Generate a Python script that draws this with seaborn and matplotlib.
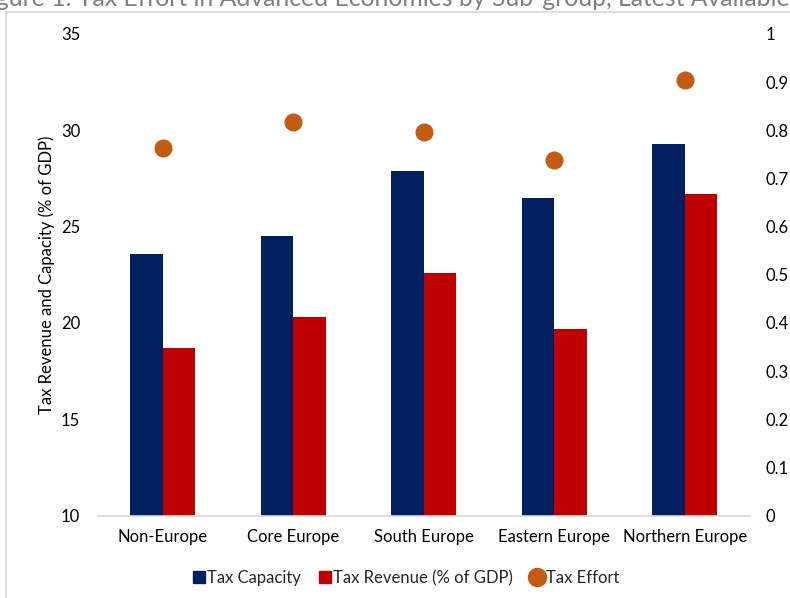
import matplotlib
matplotlib.use("Agg")
import matplotlib.pyplot as plt
import seaborn as sns
import pandas as pd
from matplotlib.lines import Line2D
from matplotlib.patches import Rectangle

# Sub-group data
groups = ["Non-Europe", "Core Europe", "South Europe", "Eastern Europe", "Northern Europe"]
tax_capacity = [23.6, 24.5, 27.9, 26.5, 29.3]
tax_revenue = [18.7, 20.3, 22.6, 19.7, 26.7]
tax_effort = [0.763, 0.817, 0.797, 0.739, 0.904]

left_ticks = [10, 15, 20, 25, 30, 35]
right_ticks = [0, 0.1, 0.2, 0.3, 0.4, 0.5, 0.6, 0.7, 0.8, 0.9, 1]
right_labels = ["0", "0.1", "0.2", "0.3", "0.4", "0.5", "0.6", "0.7", "0.8", "0.9", "1"]

title = "Figure 1. Tax Effort in Advanced Economies by Sub-group, Latest Available Year"

NAVY = "#002060"
RED = "#C00000"
ORANGE = "#C55A11"
GRID = "#D9D9D9"
TEXT = "#000000"
FS = 12

sns.set_theme(style="white")
plt.rcParams["font.family"] = ["Lato", "DejaVu Sans"]

bars = pd.DataFrame({
    "group": groups * 2,
    "series": ["Tax Capacity"] * len(groups) + ["Tax Revenue (% of GDP)"] * len(groups),
    "value": tax_capacity + tax_revenue,
})
effort = pd.DataFrame({"group": groups, "value": tax_effort})

W, H = 790, 598
fig = plt.figure(figsize=(W / 100, H / 100), dpi=100)
ax = fig.add_axes([97.5 / W, (H - 515.5) / H, (750 - 97.5) / W, (515.5 - 34) / H])

sns.barplot(data=bars, x="group", y="value", hue="series", order=groups,
            palette=[NAVY, RED], width=0.5, gap=0, saturation=1,
            linewidth=0, ax=ax, legend=False)
ax.set_ylim(10, 35)
ax.set_yticks(left_ticks)
ax.set_yticklabels([str(t) for t in left_ticks])
ax.set_xlim(-0.5, len(groups) - 0.5)
ax.set_xlabel("")
ax.set_ylabel("Tax Revenue and Capacity (% of GDP)", fontsize=FS, color=TEXT)
ax.yaxis.set_label_coords((55 - 97.5) / (750 - 97.5), 0.5)
ax.tick_params(axis="both", length=0, labelsize=FS, colors=TEXT)
ax.tick_params(axis="x", pad=10)
ax.tick_params(axis="y", pad=12.5)
for side in ["top", "right", "left"]:
    ax.spines[side].set_visible(False)
ax.spines["bottom"].set_color(GRID)
ax.spines["bottom"].set_linewidth(1.2)

ax2 = ax.twinx()
sns.stripplot(data=effort, x="group", y="value", order=groups, jitter=False,
              color=ORANGE, size=13, linewidth=0, ax=ax2)
ax2.set_ylim(0, 1)
ax2.set_yticks(right_ticks)
ax2.set_yticklabels(right_labels)
ax2.set_ylabel("")
ax2.set_xlim(-0.5, len(groups) - 0.5)
ax2.tick_params(axis="y", length=0, labelsize=FS, colors=TEXT, pad=11.5)
for side in ["top", "right", "left", "bottom"]:
    ax2.spines[side].set_visible(False)

# chart frame
fig.patches.append(Rectangle((6 / W, -0.1), 1.2, (H - 12) / H + 0.1,
                             transform=fig.transFigure, fill=False,
                             edgecolor=GRID, linewidth=1.2))

# heading, partly cropped above the frame: size it so that "Economies ... Available"
# spans x = 335..790 px and starts at x = 335 px
renderer = fig.canvas.get_renderer()
def text_width(s, size):
    t = fig.text(0, 0, s, fontsize=size)
    w = t.get_window_extent(renderer).width
    t.remove()
    return w

prefix = "Figure 1. Tax Effort in Advanced "
span = "Economies by Sub-group, Latest Available"
base = 15
size = base * 455 / text_width(span, base)
x0 = 335 - text_width(prefix + "E", size) + text_width("E", size)
fig.text(x0 / W, (H - 6.5) / H, title, ha="left", va="baseline",
         fontsize=size, color="#808080")

handles = [
    Line2D([], [], marker="s", linestyle="none", markersize=8, color=NAVY),
    Line2D([], [], marker="s", linestyle="none", markersize=8, color=RED),
    Line2D([], [], marker="o", linestyle="none", markersize=13, color=ORANGE),
]
fig.legend(handles, ["Tax Capacity", "Tax Revenue (% of GDP)", "Tax Effort"],
           loc="center", bbox_to_anchor=(405 / W, 20 / H), ncol=3,
           frameon=False, fontsize=FS, handletextpad=0.05, columnspacing=1.0,
           handlelength=0.9)

fig.savefig("out.png", dpi=100)
